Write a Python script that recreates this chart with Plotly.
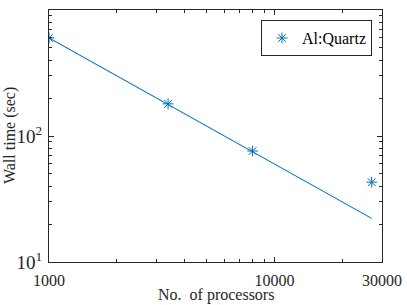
import plotly.graph_objects as go

processors = [1000, 3375, 8000, 27000]
wall_time = [600, 180, 76, 43]
ideal_x = [1000, 27000]
ideal_y = [600, 22.2]
x_ticks = [1000, 10000, 30000]
x_tick_labels = ["1000", "10000", "30000"]
y_ticks = [10, 100, 1000]
y_tick_labels = ["10<sup>1</sup>", "10<sup>2</sup>", "10<sup>3</sup>"]

blue = "#0072BD"
axis_col = "#262626"
font_family = "Liberation Serif, DejaVu Serif, serif"

fig = go.Figure()
fig.add_trace(go.Scatter(x=ideal_x, y=ideal_y, mode="lines",
                         line=dict(color=blue, width=1.1), showlegend=False))
fig.add_trace(go.Scatter(x=processors, y=wall_time, mode="markers", name="Al:Quartz",
                         marker=dict(symbol="asterisk-open", size=9, color=blue,
                                     line=dict(color=blue, width=1))))

axis_common = dict(type="log", showline=True, linecolor=axis_col, linewidth=1,
                   mirror="ticks", ticks="inside", ticklen=5, tickcolor=axis_col,
                   showgrid=False, zeroline=False, automargin=False,
                   minor=dict(dtick="D1", ticks="inside", ticklen=3, tickcolor=axis_col,
                              showgrid=False))

fig.update_xaxes(**axis_common, range=[3, 4.4771], tickvals=x_ticks, ticktext=x_tick_labels,
                 ticklabelstandoff=4,
                 tickfont=dict(family=font_family, size=16, color=axis_col))
fig.update_yaxes(**axis_common, range=[1, 3], tickvals=y_ticks, ticktext=y_tick_labels,
                 ticklabelstandoff=2,
                 tickfont=dict(family=font_family, size=19, color=axis_col))

fig.add_annotation(text="No.  of processors", xref="paper", yref="paper",
                   x=0.5, y=-0.131, xanchor="center", yanchor="middle", showarrow=False,
                   font=dict(family=font_family, size=16, color=axis_col))
fig.add_annotation(text="Wall time (sec)", xref="paper", yref="paper",
                   x=-0.117, y=0.5, xanchor="center", yanchor="middle", textangle=-90,
                   showarrow=False,
                   font=dict(family=font_family, size=16, color=axis_col))

fig.update_layout(
    width=407, height=305,
    margin=dict(l=49, r=25, t=10, b=43),
    paper_bgcolor="white", plot_bgcolor="white",
    font=dict(family=font_family, color=axis_col),
    legend=dict(x=0.97, y=0.96, xanchor="right", yanchor="top", itemwidth=30,
                bordercolor=axis_col, borderwidth=1, bgcolor="white",
                font=dict(family=font_family, size=16, color="black")),
)

fig.write_html("out.html", config={"displayModeBar": False},
               post_script="document.body.style.margin='0';document.body.style.overflow='hidden';")
